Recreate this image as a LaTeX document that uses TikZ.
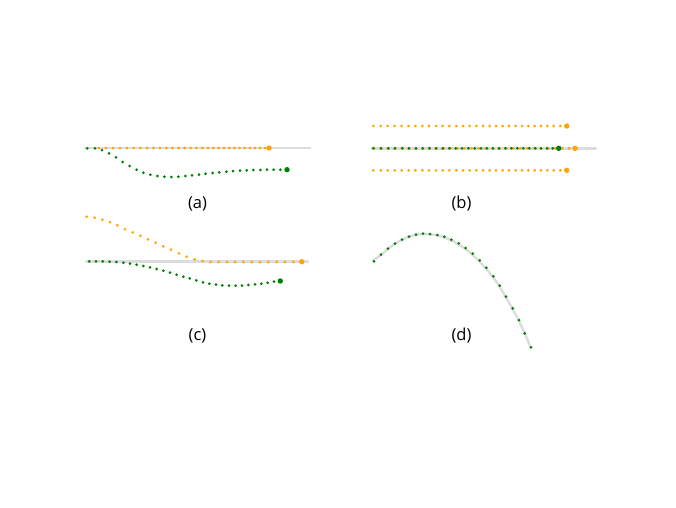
\documentclass[tikz,border=0pt]{standalone}
\usepackage{fontspec}
\setmainfont{Open Sans}
\definecolor{dgreen}{HTML}{008000}
\definecolor{dorange}{HTML}{FFA500}
\definecolor{lgray}{HTML}{DCDCDC}
\tikzset{
  guide/.style={draw=lgray, line width=2.4pt, line cap=round},
  gdot/.style={fill=dgreen},
  odot/.style={fill=dorange},
  lab/.style={font=\fontsize{16.5}{19}\selectfont, inner sep=0pt}
}
\def\rs{1.5}
\def\rb{2.7}
\begin{document}
\begin{tikzpicture}[x=1pt,y=-1pt]
\useasboundingbox (0,0) rectangle (676,507);
% ---------- (a)
\draw[guide] (85,148) -- (310,148);
\foreach \x in {99,106,113,120,127,133.7,140.3,147,153.7,160,166.3,172.7,178.7,184.7,190.7,196.7,202.3,208,213.3,218.7,224,229.3,234.3,239.7,244.7,250,255,260,265}
  \fill[odot] (\x,148) circle (\rs);
\fill[odot] (269,148) circle (\rb);
\foreach \x/\y in {87.3/148.3,95/148.3,102/150,109/153.3,116/157.3,122.7/162,129.7/166,136.7/169.7,143.3/172.7,150.3/174.7,157.3/176,164.3/176.7,171.3/177,178.3/176.7,185.3/176,192/175.3,199/174.7,205.7/173.7,212.7/173,219.3/172.3,226.3/171.7,233/171,240/170.7,246.7/170.3,253.3/170,260.3/170,267/169.7,273.7/169.7,280.3/169.7}
  \fill[gdot] (\x,\y) circle (\rs);
\fill[gdot] (287,169.7) circle (\rb);
\node[lab] (la) at (197.5,203.5) {(a)};
% ---------- (b)
\draw[guide] (371.7,148.3) -- (596,148.3);
\foreach \x in {373.3,380.7,387.7,394.7,401.7,408.7,415.3,422.3,429,436,442.7,449.3,456.3,463,469.7,476.3,483,489.7,496,502.7,509,515.7,522,528.3,534.7,541,547.3,553.7,560.3}{
  \fill[odot] (\x,126) circle (\rs);
  \fill[odot] (\x,170.3) circle (\rs);}
\fill[odot] (566.7,126) circle (\rb);
\fill[odot] (566.7,170.3) circle (\rb);
\foreach \i in {0,...,28}
  \fill[odot] ({374+\i*6.97},148.3) circle (\rs);
\fill[odot] (575,148.3) circle (\rb);
\foreach \x in {373.3,381,388.3,395,402.3,409,416,422.7,429.3,436,442.7,449.3,455.7,462,468.3,474.7,481,487,493,499,505.3,511.3,517.3,523.3,529.3,535.3,541,547,552.7}
  \fill[gdot] (\x,148.3) circle (\rs);
\fill[gdot] (558.7,148.3) circle (\rb);
\node[lab] (lb) at (461.5,203.5) {(b)};
% ---------- (c)
\draw[guide] (86,261.3) -- (308,261.3);
\foreach \x/\y in {86.7/216.7,94.7/217.7,102.3/219.7,110/222,117.3/225.3,125/229,132.7/232.3,140.3/235.7,148/239.3,155.7/242.7,163.3/246.3,171/249.7,179/253.3,186.7/256.7,194.7/259.3,202.7/261,210.7/262,218.7/262,227/262,235/262,243.3/262,251.7/262,260/262,268.3/262,276.7/262,285/262,293.3/262}
  \fill[odot] (\x,\y) circle (\rs);
\fill[odot] (301.7,261.7) circle (\rb);
\foreach \x/\y in {89.3/261.3,96/261.3,102.7/261.3,109.7/261.7,116.3/262,123.3/262.7,130/263.7,136.7/264.7,143.3/266,150/267.3,156.7/269,163.3/270.7,170/272.7,176.7/274.7,183.3/276.7,189.7/278.3,196.3/280.3,203/282.3,209.3/283.7,216/284.7,222.3/285.3,229/285.7,235.7/285.7,242/285.7,248.3/285,255/284.3,261.3/283.7,267.7/282.7,274/281.7}
  \fill[gdot] (\x,\y) circle (\rs);
\fill[gdot] (280.3,281) circle (\rb);
\node[lab] (lc) at (197.5,335.5) {(c)};
% ---------- (d)
\draw[guide, smooth] plot coordinates {(373,260.5) (381,254.7) (388,248.7) (395,243.7) (402,239.7) (409,236.7) (416,234.7) (423,233.9) (430,234.2) (437.3,235.4) (444.3,237.4) (451.3,240.4) (458.7,244.5) (465.7,249.2) (472.7,255) (479.7,261.6) (486.3,269) (493.3,277.5) (499.7,286.7) (506,297.5) (512.7,309) (519,321) (524.7,333.5) (530.5,347)};
\foreach \x/\y in {374/261.3,381/254.7,388/248.7,395/243.7,402/239.7,409/236.7,416/234.7,423/233.7,430/234,437.3/235,444.3/236.7,451.3/239.7,458.7/243.3,465.7/248,472.7/253.7,479.7/260.3,486.3/267.7,493.3/276.3,499.7/285.7,506/296.7,512.7/308.3,519/320,524.7/333.3,531/347.3}
  \fill[gdot] (\x,\y) circle (\rs);
\node[lab] (ld) at (461.5,335.5) {(d)};
\end{tikzpicture}
\end{document}
